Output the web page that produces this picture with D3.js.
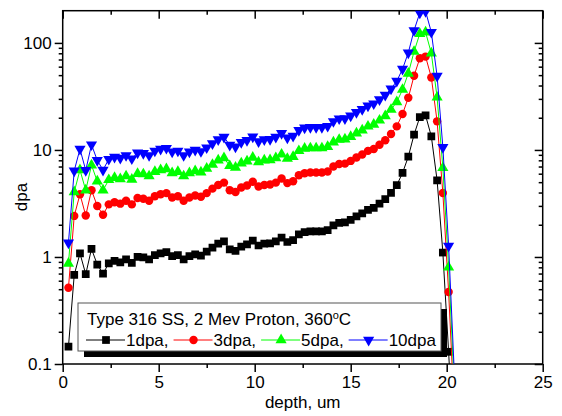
<!DOCTYPE html>
<html>
<head>
<meta charset="utf-8">
<script src="https://cdn.jsdelivr.net/npm/d3@7"></script>
<style>
  body { margin: 0; background: #fff; }
  svg text { font-family: Arial, "Liberation Sans", sans-serif; fill: #000; }
</style>
</head>
<body>
<svg id="chart" width="562" height="416"></svg>
<script>
// depth (um) of each point
var depth = [0.3, 0.6, 0.9, 1.2, 1.5, 1.8, 2.1, 2.4, 2.7, 3.0,
  3.3, 3.6, 3.9, 4.2, 4.5, 4.8, 5.1, 5.4, 5.7, 6.0,
  6.3, 6.6, 6.9, 7.2, 7.5, 7.8, 8.1, 8.4, 8.7, 9.0,
  9.3, 9.6, 9.9, 10.2, 10.5, 10.8, 11.1, 11.4, 11.7, 12.0,
  12.3, 12.6, 12.9, 13.2, 13.5, 13.8, 14.1, 14.4, 14.7, 15.0,
  15.3, 15.6, 15.9, 16.2, 16.5, 16.8, 17.1, 17.4, 17.7, 18.0,
  18.3, 18.6, 18.9, 19.2, 19.5, 19.8, 20.1, 20.4];

var dpa1 = [0.145, 0.68, 1.08, 0.69, 1.19, 0.85, 0.70, 0.87, 0.92, 0.89,
  0.95, 0.88, 1.0, 0.99, 0.95, 1.04, 1.08, 1.11, 1.02, 1.04,
  0.95, 1.02, 1.06, 1.03, 1.12, 1.22, 1.33, 1.40, 1.18, 1.14,
  1.25, 1.31, 1.42, 1.28, 1.33, 1.34, 1.40, 1.52, 1.38, 1.44,
  1.63, 1.71, 1.73, 1.73, 1.73, 1.78, 1.97, 2.08, 2.10, 2.22,
  2.39, 2.55, 2.76, 2.88, 3.15, 3.47, 3.97, 4.68, 6.1, 8.65,
  13.9, 20.3, 21.0, 13.4, 5.2, 1.1, 0.13, 0.012];

var dpa3 = [0.515, 2.42, 3.85, 2.44, 4.2, 3.0, 2.48, 3.1, 3.25, 3.15,
  3.35, 3.1, 3.55, 3.5, 3.35, 3.7, 3.85, 3.95, 3.6, 3.7,
  3.35, 3.6, 3.75, 3.65, 3.95, 4.35, 4.7, 4.95, 4.2, 4.05,
  4.45, 4.65, 5.05, 4.55, 4.7, 4.75, 4.95, 5.4, 4.9, 5.1,
  5.8, 6.05, 6.15, 6.15, 6.15, 6.3, 7.0, 7.4, 7.45, 7.9,
  8.5, 9.05, 9.8, 10.2, 11.2, 12.3, 14.1, 16.6, 21.7, 30.7,
  49.3, 72, 74.5, 47.6, 18.5, 3.96, 0.47, 0.035];

var dpa5 = [0.87, 4.05, 6.5, 4.2, 7.2, 5.1, 4.2, 5.25, 5.5, 5.35,
  5.7, 5.3, 6.0, 5.95, 5.7, 6.25, 6.5, 6.65, 6.1, 6.25,
  5.7, 6.1, 6.35, 6.2, 6.7, 7.3, 8.0, 8.4, 7.1, 6.85,
  7.5, 7.85, 8.5, 7.7, 8.0, 8.05, 8.4, 9.1, 8.3, 8.65,
  9.8, 10.3, 10.4, 10.4, 10.4, 10.7, 11.8, 12.5, 12.6, 13.3,
  14.3, 15.3, 16.6, 17.3, 18.9, 20.8, 23.8, 28.1, 36.6, 51.9,
  83, 122, 126, 80, 31, 6.8, 0.8, 0.06];

var dpa10 = [1.36, 6.4, 10.2, 6.45, 11.2, 8.0, 6.5, 8.2, 8.6, 8.4,
  8.9, 8.3, 9.4, 9.3, 8.9, 9.8, 10.2, 10.4, 9.6, 9.8,
  8.9, 9.6, 10.0, 9.7, 10.5, 11.5, 12.5, 13.2, 11.1, 10.7,
  11.8, 12.3, 13.3, 12.0, 12.5, 12.6, 13.2, 14.3, 13.0, 13.5,
  15.3, 16.1, 16.3, 16.3, 16.3, 16.7, 18.5, 19.6, 19.7, 20.9,
  22.5, 24.0, 25.9, 27.1, 29.6, 32.6, 37.3, 44, 57, 81,
  131, 191, 197, 126, 49, 10.6, 1.27, 0.08];

var seriesNames = ['1dpa,', '3dpa,', '5dpa,', '10dpa'];
var xTicks = [0, 5, 10, 15, 20, 25];
var xMinor = [2.5, 7.5, 12.5, 17.5, 22.5];
var yTicks = [0.1, 1, 10, 100];
var yMinor = [0.2, 0.3, 0.4, 0.5, 0.6, 0.7, 0.8, 0.9, 2, 3, 4, 5, 6, 7, 8, 9,
  20, 30, 40, 50, 60, 70, 80, 90];

var svg = d3.select('#chart');
var L = 62.7, R = 542.7, T = 10.7, B = 364;

var x = d3.scaleLinear().domain([0, 25]).range([L, R]);
var y = d3.scaleLog().domain([0.1, 200]).range([B, T]);

svg.append('rect').attr('width', 562).attr('height', 416).attr('fill', '#fff');

svg.append('clipPath').attr('id', 'plot-clip')
  .append('rect').attr('x', L).attr('y', T).attr('width', R - L).attr('height', B - T);

// axes (ticks only, frame drawn afterwards)
function styleAxis(g) {
  g.select('.domain').remove();
  g.selectAll('.tick line').attr('stroke', '#000').attr('stroke-width', 1.5);
  g.selectAll('.tick text').attr('font-size', 17).attr('font-family', 'Arial, "Liberation Sans", sans-serif');
}

svg.append('g').attr('transform', 'translate(0,' + B + ')')
  .call(d3.axisBottom(x).tickValues(xTicks).tickSize(8).tickPadding(4).tickFormat(d3.format('d')))
  .call(styleAxis);
svg.append('g').attr('transform', 'translate(0,' + B + ')')
  .call(d3.axisBottom(x).tickValues(xMinor).tickSize(4).tickFormat(''))
  .call(styleAxis);
svg.append('g').attr('transform', 'translate(0,' + T + ')')
  .call(d3.axisTop(x).tickValues(xTicks).tickSize(-8).tickFormat(''))
  .call(styleAxis);
svg.append('g').attr('transform', 'translate(0,' + T + ')')
  .call(d3.axisTop(x).tickValues(xMinor).tickSize(-4).tickFormat(''))
  .call(styleAxis);

svg.append('g').attr('transform', 'translate(' + L + ',0)')
  .call(d3.axisLeft(y).tickValues(yTicks).tickSize(8).tickPadding(3).tickFormat(function(d) { return d < 1 ? '0.1' : String(d); }))
  .call(styleAxis);
svg.append('g').attr('transform', 'translate(' + L + ',0)')
  .call(d3.axisLeft(y).tickValues(yMinor).tickSize(4).tickFormat(''))
  .call(styleAxis);
svg.append('g').attr('transform', 'translate(' + R + ',0)')
  .call(d3.axisRight(y).tickValues(yTicks).tickSize(-8).tickFormat(''))
  .call(styleAxis);
svg.append('g').attr('transform', 'translate(' + R + ',0)')
  .call(d3.axisRight(y).tickValues(yMinor).tickSize(-4).tickFormat(''))
  .call(styleAxis);

svg.append('rect')
  .attr('x', L).attr('y', T).attr('width', R - L).attr('height', B - T)
  .attr('fill', 'none').attr('stroke', '#000').attr('stroke-width', 1.5);

// axis titles
svg.append('text')
  .attr('x', (L + R) / 2).attr('y', 408)
  .attr('text-anchor', 'middle').attr('font-size', 17)
  .text('depth, um');
svg.append('text')
  .attr('transform', 'translate(27,197) rotate(-90)')
  .attr('text-anchor', 'middle').attr('font-size', 17)
  .text('dpa');

// legend box with shadow
svg.append('rect').attr('x', 84).attr('y', 309).attr('width', 363).attr('height', 48).attr('fill', '#000');
svg.append('rect').attr('x', 78).attr('y', 303).attr('width', 363).attr('height', 48)
  .attr('fill', '#fff').attr('stroke', '#555').attr('stroke-width', 1);

// series
var series = [
  { name: seriesNames[0], values: dpa1, color: '#000000', symbol: d3.symbolSquare, size: 60, rot: 0 },
  { name: seriesNames[1], values: dpa3, color: '#ff0000', symbol: d3.symbolCircle, size: 56, rot: 0 },
  { name: seriesNames[2], values: dpa5, color: '#00ff00', symbol: d3.symbolTriangle, size: 54, rot: 0 },
  { name: seriesNames[3], values: dpa10, color: '#0000ff', symbol: d3.symbolTriangle, size: 54, rot: 180 }
];

var line = d3.line()
  .x(function(d) { return x(d[0]); })
  .y(function(d) { return y(d[1]); });

var plot = svg.append('g').attr('clip-path', 'url(#plot-clip)');

series.forEach(function(s) {
  var pts = depth.map(function(d, i) { return [d, s.values[i]]; });
  var g = plot.append('g');
  g.append('path').datum(pts)
    .attr('d', line)
    .attr('fill', 'none').attr('stroke', s.color).attr('stroke-width', 1);
  g.selectAll('path.pt').data(pts).enter().append('path')
    .attr('class', 'pt')
    .attr('d', d3.symbol().type(s.symbol).size(s.size))
    .attr('transform', function(d) {
      return 'translate(' + x(d[0]) + ',' + y(d[1]) + ') rotate(' + s.rot + ')';
    })
    .attr('fill', s.color);
});

// legend contents
var lg = svg.append('g');
var t1 = lg.append('text').attr('x', 87).attr('y', 325).attr('font-size', 17);
t1.append('tspan').text('Type 316 SS, 2 Mev Proton, 360');
t1.append('tspan').attr('font-size', 11).attr('dy', -6).text('o');
t1.append('tspan').attr('dy', 6).text('C');

var cx = 86, rowY = 340;
series.forEach(function(s) {
  lg.append('line')
    .attr('x1', cx).attr('x2', cx + 39).attr('y1', rowY).attr('y2', rowY)
    .attr('stroke', s.color).attr('stroke-width', 1);
  lg.append('path')
    .attr('d', d3.symbol().type(s.symbol).size(s.size))
    .attr('transform', 'translate(' + (cx + 20) + ',' + rowY + ') rotate(' + s.rot + ')')
    .attr('fill', s.color);
  var t = lg.append('text').attr('x', cx + 40).attr('y', 346).attr('font-size', 17).text(s.name);
  cx += 40 + t.node().getComputedTextLength() + 5;
});
</script>
</body>
</html>
